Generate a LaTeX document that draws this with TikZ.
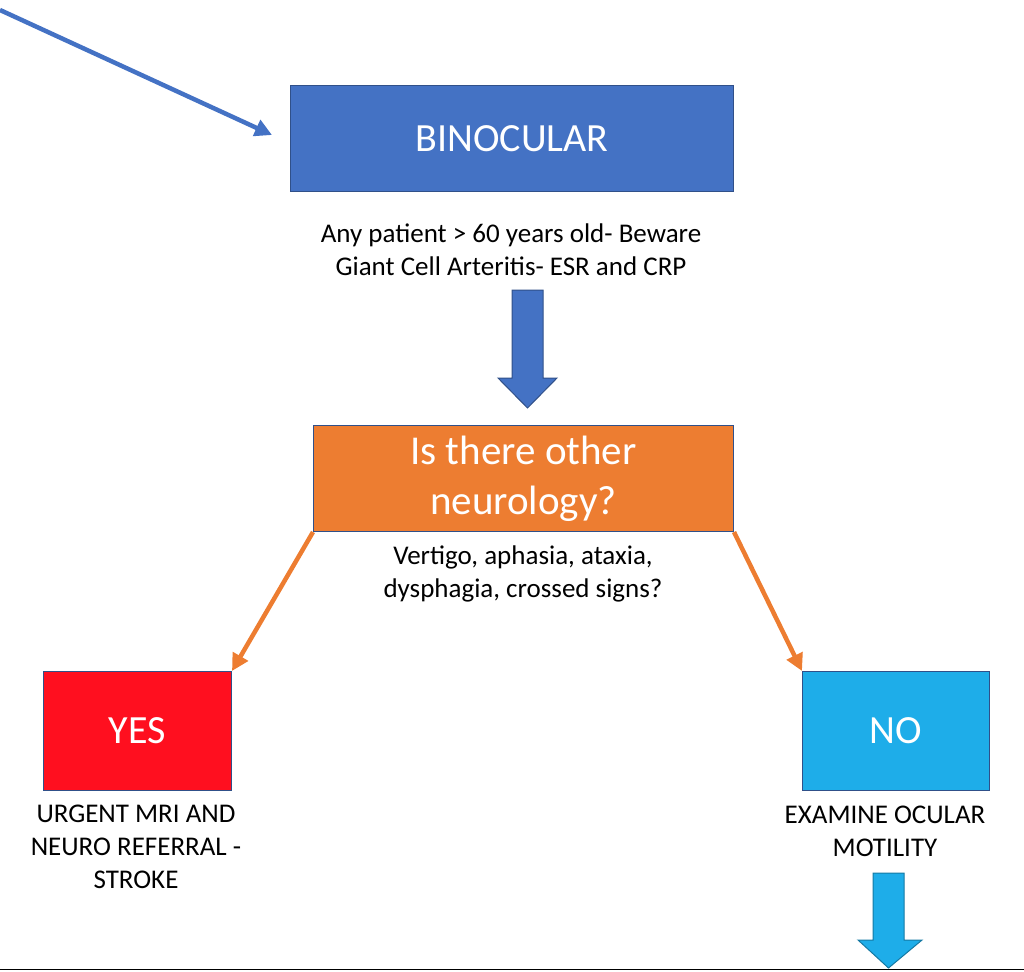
\documentclass[tikz,border=0pt]{standalone}
\usepackage{fontspec}
\setmainfont{Carlito}
\usetikzlibrary{shapes.arrows,arrows.meta}
\definecolor{cblue}{HTML}{4472C4}
\definecolor{corange}{HTML}{ED7D31}
\definecolor{cred}{HTML}{FF0F1F}
\definecolor{clblue}{HTML}{1EADE9}
\begin{document}
\begin{tikzpicture}[x=1pt,y=-1pt,
 box/.style={draw=cblue!70!black,line width=1pt,anchor=north west,inner sep=0,text=white,align=center},
 note/.style={align=center,font=\fontsize{27}{33}\selectfont},
 conn/.style={line width=4.5pt,-{Triangle[length=17pt,width=17pt]}}]
\useasboundingbox (0,0) rectangle (1024,971);
\node[box,fill=cblue,minimum width=443pt,minimum height=106pt,font=\fontsize{40}{46}\selectfont] (bin) at (290,85) {BINOCULAR};
\node[note] (t1) at (511,250) {Any patient > 60 years old- Beware\\Giant Cell Arteritis- ESR and CRP};
\node[box,fill=corange,minimum width=420pt,minimum height=106pt,font=\fontsize{41}{50}\selectfont] (q) at (313,425) {Is there other\\neurology?};
\node[note] (t2) at (523,574) {Vertigo, aphasia, ataxia,\\dysphagia, crossed signs?};
\node[box,fill=cred,minimum width=188pt,minimum height=119pt,font=\fontsize{40}{46}\selectfont] (yes) at (43,671) {YES};
\node[box,fill=clblue,minimum width=187pt,minimum height=119pt,font=\fontsize{40}{46}\selectfont] (no) at (802,671) {NO};
\node[note] (t3) at (136,847) {URGENT MRI AND\\NEURO REFERRAL -\\STROKE};
\node[note] (t4) at (885,831) {EXAMINE OCULAR\\MOTILITY};
\coordinate (s) at (0,10);
\coordinate (e) at (272,135);
\draw[conn,cblue] (s) -- (e);
\draw[conn,corange] (q.south west) -- (yes.north east);
\draw[conn,corange] (q.south east) -- (no.north west);
\draw[draw=cblue!70!black,fill=cblue,line width=1pt] (512,290) -- (543,290) -- (543,378) -- (557,378) -- (527.5,408) -- (498,378) -- (512,378) -- cycle;
\draw[draw=clblue!70!black,fill=clblue,line width=1pt] (873,873) -- (904,873) -- (904,940) -- (922,940) -- (888.5,968) -- (858,940) -- (873,940) -- cycle;
\draw[line width=1.5pt] (0,969.5) -- (1024,969.5);
\end{tikzpicture}
\end{document}
